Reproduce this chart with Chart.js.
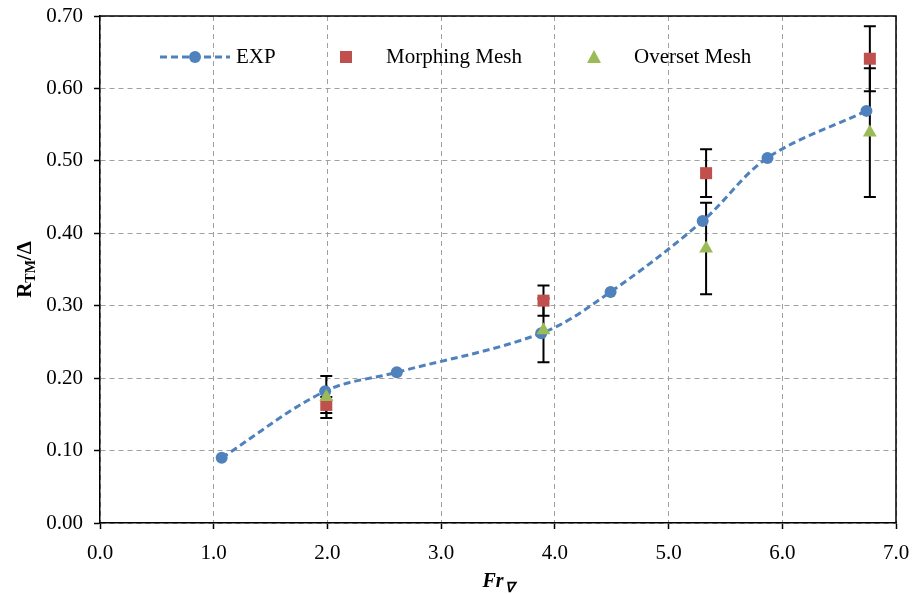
<!DOCTYPE html>
<html>
<head>
<meta charset="utf-8">
<script src="https://cdn.jsdelivr.net/npm/chart.js@4/dist/chart.umd.min.js"></script>
<style>
  html, body { margin: 0; padding: 0; background: #fff; }
  #wrap { width: 912px; height: 594px; }
</style>
</head>
<body>
<div id="wrap"><canvas id="resistanceChart" width="912" height="594"></canvas></div>
<script>
// experimental resistance curve
const expFr = [1.07, 1.98, 2.61, 3.88, 4.49, 5.30, 5.87, 6.74];
const expR = [0.090, 0.182, 0.208, 0.262, 0.319, 0.417, 0.504, 0.569];

// CFD runs (same Froude numbers for both meshes)
const meshFr = [1.99, 3.90, 5.33, 6.77];
const morphR = [0.163, 0.307, 0.483, 0.641];
const morphErr = [0.011, 0.021, 0.033, 0.045];
const oversetR = [0.174, 0.266, 0.379, 0.539];
const oversetErr = [0.029, 0.044, 0.063, 0.089];

const blue = "#4F81BD";
const red = "#C0504D";
const green = "#9BBB59";
const serif = "'Liberation Serif', 'Times New Roman', serif";

function toPoints(xs, ys){
    const pts = [];
    for(let i = 0; i < xs.length; i++){
        pts.push({x: xs[i], y: ys[i]});
    }
    return pts;
}

// vertical error bars with caps, drawn under the markers
const errorBars = {
    id: 'errorBars',
    beforeDatasetsDraw(chart){
        const ctx = chart.ctx;
        const xs = chart.scales.x;
        const ys = chart.scales.y;
        const sets = [[meshFr, oversetR, oversetErr], [meshFr, morphR, morphErr]];
        ctx.save();
        ctx.strokeStyle = "#000";
        ctx.lineWidth = 2;
        sets.forEach(function(s){
            for(let i = 0; i < s[0].length; i++){
                const px = xs.getPixelForValue(s[0][i]);
                const top = ys.getPixelForValue(s[1][i] + s[2][i]);
                const bot = ys.getPixelForValue(s[1][i] - s[2][i]);
                ctx.beginPath();
                ctx.moveTo(px, top); ctx.lineTo(px, bot);
                ctx.moveTo(px - 6, top); ctx.lineTo(px + 6, top);
                ctx.moveTo(px - 6, bot); ctx.lineTo(px + 6, bot);
                ctx.stroke();
            }
        });
        ctx.restore();
    }
};

// frame, in-plot legend and the axis titles with subscripts
const decorations = {
    id: 'decorations',
    afterDraw(chart){
        const ctx = chart.ctx;
        const a = chart.chartArea;
        ctx.save();
        ctx.strokeStyle = "#000";
        ctx.lineWidth = 1.5;
        ctx.beginPath();
        ctx.moveTo(a.left, a.top); ctx.lineTo(a.right, a.top); ctx.lineTo(a.right, a.bottom);
        ctx.stroke();

        // legend
        const ly = 57;
        ctx.strokeStyle = blue;
        ctx.lineWidth = 3;
        ctx.setLineDash([7, 4]);
        ctx.beginPath();
        ctx.moveTo(160, ly); ctx.lineTo(230, ly);
        ctx.stroke();
        ctx.setLineDash([]);
        ctx.fillStyle = blue;
        ctx.beginPath();
        ctx.arc(195, ly, 6, 0, Math.PI * 2);
        ctx.fill();
        ctx.fillStyle = red;
        ctx.fillRect(340, ly - 6, 12, 12);
        ctx.fillStyle = green;
        ctx.beginPath();
        ctx.moveTo(594, ly - 7); ctx.lineTo(601, ly + 6); ctx.lineTo(587, ly + 6);
        ctx.closePath();
        ctx.fill();
        ctx.fillStyle = "#000";
        ctx.font = "21px " + serif;
        ctx.textBaseline = "middle";
        ctx.fillText("EXP", 236, ly);
        ctx.fillText("Morphing Mesh", 386, ly);
        ctx.fillText("Overset Mesh", 634, ly);

        // x title: Fr with nabla subscript
        ctx.textBaseline = "alphabetic";
        ctx.font = "bold italic 20px " + serif;
        const fw = ctx.measureText("Fr").width;
        ctx.font = "bold italic 14px " + serif;
        const nw = ctx.measureText("\u2207").width;
        let x0 = (a.left + a.right) / 2 - (fw + nw + 1) / 2;
        ctx.font = "bold italic 20px " + serif;
        ctx.fillText("Fr", x0, 587);
        ctx.font = "bold italic 14px " + serif;
        ctx.fillText("\u2207", x0 + fw + 1, 592);

        // y title: R_TM / Delta, rotated
        ctx.translate(24, (a.top + a.bottom) / 2);
        ctx.rotate(-Math.PI / 2);
        ctx.font = "bold 21px " + serif;
        const rw = ctx.measureText("R").width;
        const dw = ctx.measureText("/\u0394").width;
        ctx.font = "bold 14px " + serif;
        const tw = ctx.measureText("TM").width;
        x0 = -(rw + tw + dw) / 2;
        ctx.font = "bold 21px " + serif;
        ctx.fillText("R", x0, 7);
        ctx.fillText("/\u0394", x0 + rw + tw, 7);
        ctx.font = "bold 14px " + serif;
        ctx.fillText("TM", x0 + rw, 11);
        ctx.restore();
    }
};

const gridStyle = {
    color: "#a0a0a0",
    lineWidth: 1,
    tickColor: "#000",
    tickLength: 6,
    tickWidth: 1.5,
    tickBorderDash: [],
    drawTicks: true
};

new Chart(document.getElementById("resistanceChart"), {
    type: 'scatter',
    data: {
        datasets: [{
            label: 'EXP',
            data: toPoints(expFr, expR),
            showLine: true,
            tension: 0.35,
            borderColor: blue,
            borderWidth: 3,
            borderDash: [7, 4],
            pointStyle: 'circle',
            pointRadius: 6,
            pointBackgroundColor: blue,
            pointBorderWidth: 0,
            order: 3
        }, {
            label: 'Morphing Mesh',
            data: toPoints(meshFr, morphR),
            pointStyle: 'rect',
            pointRadius: 8.5,
            pointBackgroundColor: red,
            pointBorderWidth: 0,
            order: 2
        }, {
            label: 'Overset Mesh',
            data: toPoints(meshFr, oversetR),
            pointStyle: 'triangle',
            pointRadius: 8,
            pointBackgroundColor: green,
            pointBorderWidth: 0,
            order: 1
        }]
    },
    options: {
        responsive: false,
        animation: false,
        layout: {
            padding: {left: 0, right: 16, top: 16, bottom: 0}
        },
        plugins: {
            legend: {display: false},
            tooltip: {enabled: false}
        },
        scales: {
            x: {
                type: 'linear',
                min: 0,
                max: 7,
                grid: gridStyle,
                border: {display: true, color: "#000", width: 1.5, dash: [5, 4]},
                ticks: {
                    stepSize: 1,
                    padding: 12,
                    color: "#000",
                    font: {family: serif, size: 21},
                    callback: function(v){ return v.toFixed(1); }
                },
                afterFit: function(scale){
                    scale.height = 71;
                    scale.paddingLeft = 0;
                    scale.paddingRight = 0;
                }
            },
            y: {
                min: 0,
                max: 0.7,
                grid: gridStyle,
                border: {display: true, color: "#000", width: 1.5, dash: [5, 4]},
                ticks: {
                    stepSize: 0.1,
                    padding: 11,
                    color: "#000",
                    font: {family: serif, size: 21},
                    callback: function(v){ return v.toFixed(2); }
                },
                afterFit: function(scale){
                    scale.width = 100;
                    scale.paddingTop = 0;
                    scale.paddingBottom = 0;
                }
            }
        }
    },
    plugins: [errorBars, decorations]
});
</script>
</body>
</html>
